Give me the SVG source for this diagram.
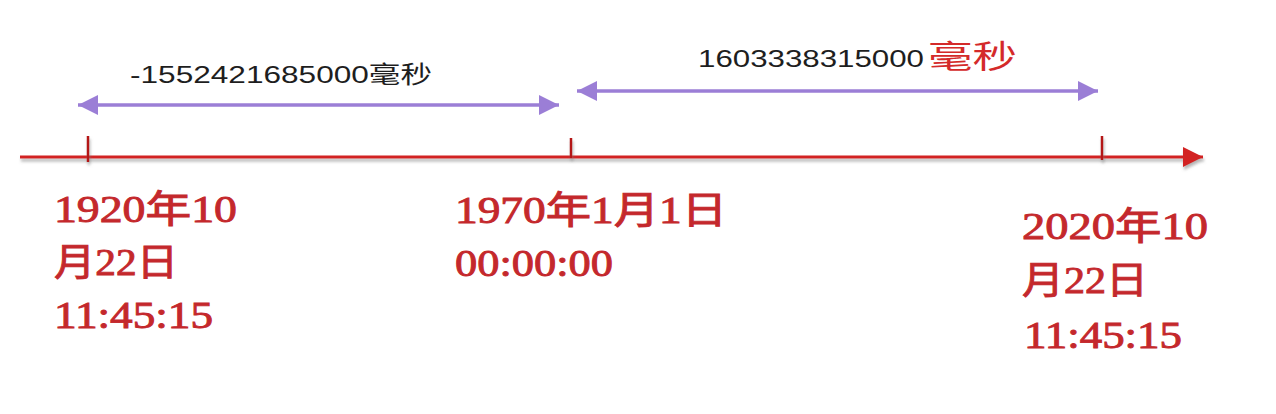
<svg xmlns="http://www.w3.org/2000/svg" width="1276" height="414" viewBox="0 0 1276 414">
  <style>
    .axis { stroke: #d22020; stroke-width: 3; fill: none; }
    .tick { stroke: #b41414; stroke-width: 2.5; }
    .span { stroke: #9b7ed6; stroke-width: 3.5; fill: none; }
    .date { font-family: "Liberation Serif", "Noto Sans CJK SC", serif; font-size: 38px; font-weight: normal; fill: #c4282c; stroke: #c4282c; stroke-width: 0.9; }
    .ms { font-family: "Liberation Sans", "Noto Sans CJK SC", sans-serif; font-size: 24px; fill: #1e1e1e; }
    .msred { font-family: "Liberation Serif", "Noto Sans CJK SC", serif; font-size: 32px; fill: #d42a2a; }
  </style>
  <defs>
    <marker id="purpleHead" viewBox="0 0 10 10" refX="10" refY="5" markerUnits="userSpaceOnUse" markerWidth="21" markerHeight="20" orient="auto-start-reverse">
      <path d="M0,0 L10,5 L0,10 z" fill="#9b7ed6"/>
    </marker>
    <marker id="redHead" viewBox="0 0 10 10" refX="10" refY="5" markerUnits="userSpaceOnUse" markerWidth="24" markerHeight="20" orient="auto">
      <path d="M0,0 L10,5 L0,10 z" fill="#d22020"/>
    </marker>
    <filter id="shadow" filterUnits="userSpaceOnUse" x="0" y="0" width="1276" height="414">
      <feDropShadow dx="1" dy="3" stdDeviation="1.5" flood-color="#777777" flood-opacity="0.55"/>
    </filter>
  </defs>

  <g id="connectors">
    <line id="axis" class="axis" x1="20" y1="157" x2="1203" y2="157" marker-end="url(#redHead)" filter="url(#shadow)"/>
    <line id="span-negative" class="span" x1="78" y1="105" x2="559" y2="105" marker-start="url(#purpleHead)" marker-end="url(#purpleHead)"/>
    <line id="span-positive" class="span" x1="577" y1="91" x2="1098" y2="91" marker-start="url(#purpleHead)" marker-end="url(#purpleHead)"/>
  </g>

  <g id="node-1920">
    <line class="tick" x1="88" y1="136" x2="88" y2="162" filter="url(#shadow)"/>
    <text class="date" x="54" y="222" textLength="183" lengthAdjust="spacingAndGlyphs">1920年10</text>
    <text class="date" x="54" y="275" textLength="124" lengthAdjust="spacingAndGlyphs">月22日</text>
    <text class="date" x="54" y="328" textLength="159" lengthAdjust="spacingAndGlyphs">11:45:15</text>
  </g>

  <g id="node-1970">
    <line class="tick" x1="571" y1="138" x2="571" y2="158" filter="url(#shadow)"/>
    <text class="date" x="455" y="223" textLength="272" lengthAdjust="spacingAndGlyphs">1970年1月1日</text>
    <text class="date" x="455" y="276" textLength="158" lengthAdjust="spacingAndGlyphs">00:00:00</text>
  </g>

  <g id="node-2020">
    <line class="tick" x1="1102" y1="136" x2="1102" y2="160" filter="url(#shadow)"/>
    <text class="date" x="1022" y="239" textLength="186" lengthAdjust="spacingAndGlyphs">2020年10</text>
    <text class="date" x="1022" y="293" textLength="126" lengthAdjust="spacingAndGlyphs">月22日</text>
    <text class="date" x="1024" y="348" textLength="158" lengthAdjust="spacingAndGlyphs">11:45:15</text>
  </g>

  <g id="label-negative">
    <text class="ms" x="130" y="83" textLength="302" lengthAdjust="spacingAndGlyphs">-1552421685000毫秒</text>
  </g>

  <g id="label-positive">
    <text class="ms" x="698" y="67" textLength="226" lengthAdjust="spacingAndGlyphs">1603338315000</text>
    <text class="msred" x="928" y="68" textLength="89" lengthAdjust="spacingAndGlyphs">毫秒</text>
  </g>
</svg>
